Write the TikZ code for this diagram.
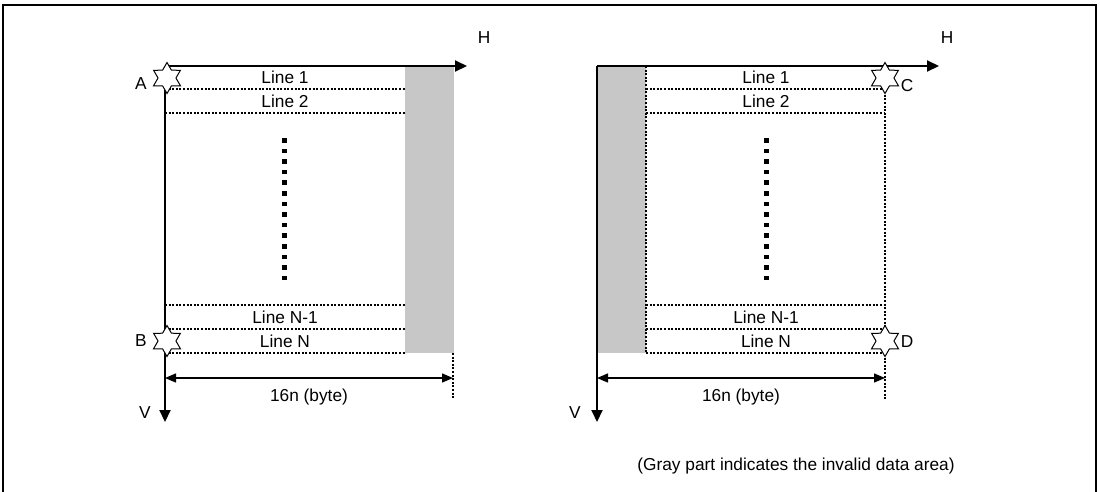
\documentclass[tikz,border=0pt]{standalone}
\usepackage{fontspec}
\setmainfont{Liberation Sans}
\usetikzlibrary{shapes.geometric,arrows.meta}
\begin{document}
\begin{tikzpicture}[x=1pt,y=-1pt,
  axis/.style={line width=2pt,-{Triangle[length=12pt,width=11pt]}},
  rowline/.style={line width=1.1pt,dash pattern=on 2pt off 1.6pt},
  dimline/.style={line width=1.4pt,{Triangle[length=11pt,width=9pt]}-{Triangle[length=11pt,width=9pt]}},
  gray/.style={fill=black!22,draw=none},
  lbl/.style={font=\fontsize{17.3}{20}\selectfont,inner sep=0pt},
  starmark/.style={star,star points=6,star point ratio=1.73,minimum size=31pt,inner sep=0pt,draw=black,line width=1pt,fill=white},
  dotsq/.style={fill=black}
]
\useasboundingbox (0,0) rectangle (1100,491);
% frame
\draw[line width=2pt] (2.5,495) -- (2.5,5) -- (1096,5) -- (1096,495);

% ===== Left diagram =====
\coordinate (LO) at (165,66);
\coordinate (LH) at (467,66);
\coordinate (LV) at (165,422);
\fill[gray] (405,66) rectangle (454,353);
\foreach \y in {89,113,305,329,353} \draw[rowline] (165,\y) -- (405,\y);
\draw[rowline] (453,353) -- (453,399);
\draw[axis] (LO) -- (LH);
\draw[axis] (LO) -- (LV);
\node[lbl] (Hl) at (484,38) {H};
\node[lbl] (Vl) at (145,413) {V};
\node[lbl] (l1) at (285,77) {Line 1};
\node[lbl] (l2) at (285,101) {Line 2};
\node[lbl] (lN1) at (285,317) {Line N-1};
\node[lbl] (lN) at (285,341) {Line N};
\foreach \i in {0,...,13} \fill[dotsq] (282,138+10.6*\i) rectangle +(4.6,4.6);
\node[starmark] (A) at (167,78) {};
\node[starmark] (B) at (167,341) {};
\node[lbl] (Al) at (141,84) {A};
\node[lbl] (Bl) at (141,341) {B};
\coordinate (dl1) at (165,378);
\coordinate (dl2) at (453,378);
\draw[dimline] (dl1) -- (dl2);
\node[lbl] (dimL) at (309,397) {16n (byte)};

% ===== Right diagram =====
\coordinate (RO) at (597,66);
\coordinate (RH) at (939,66);
\coordinate (RV) at (597,422);
\fill[gray] (597,66) rectangle (646,353);
\foreach \y in {89,113,305,329,353} \draw[rowline] (646,\y) -- (885,\y);
\draw[rowline] (646,66) -- (646,353);
\draw[rowline] (885,66) -- (885,399);
\draw[axis] (RO) -- (RH);
\draw[axis] (RO) -- (RV);
\node[lbl] (Hr) at (947,38) {H};
\node[lbl] (Vr) at (575,413) {V};
\node[lbl] (r1) at (766,77) {Line 1};
\node[lbl] (r2) at (766,101) {Line 2};
\node[lbl] (rN1) at (766,317) {Line N-1};
\node[lbl] (rN) at (766,341) {Line N};
\foreach \i in {0,...,13} \fill[dotsq] (764,138+10.6*\i) rectangle +(4.6,4.6);
\node[starmark] (C) at (885,78) {};
\node[starmark] (D) at (885,341) {};
\node[lbl] (Cl) at (907,86) {C};
\node[lbl] (Dl) at (907,342) {D};
\coordinate (dr1) at (597,378);
\coordinate (dr2) at (885,378);
\draw[dimline] (dr1) -- (dr2);
\node[lbl] (dimR) at (741,397) {16n (byte)};

\node[lbl] (note) at (796,466) {(Gray part indicates the invalid data area)};
\end{tikzpicture}
\end{document}
